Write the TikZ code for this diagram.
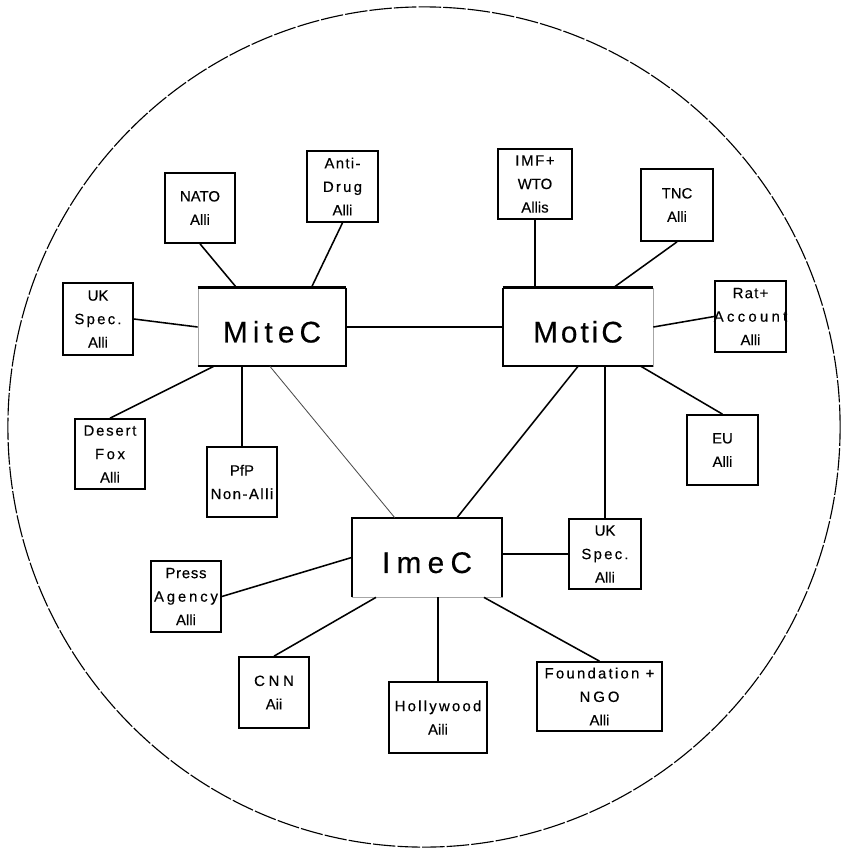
\documentclass[tikz,border=0pt]{standalone}
\usepackage{fontspec}
\setmainfont[FakeBold=0.35]{Liberation Sans}
\usetikzlibrary{calc}
\newcommand{\trk}[2]{{\addfontfeature{LetterSpace=#1}#2}}

\begin{document}
\begin{tikzpicture}[
    x=0.025cm, y=-0.025cm,
    font=\fontsize{10.6}{16.7}\selectfont,
    ally/.style={rectangle, draw, line width=1.2pt, minimum width=1.75cm, minimum height=1.75cm, inner sep=0pt, align=center},
    core/.style={rectangle, draw=black!35, line width=0.5pt, minimum width=3.75cm, minimum height=1.95cm, inner sep=0pt, font=\fontsize{21.2}{25}\selectfont, text height=22pt, text depth=0pt},
    link/.style={line width=1.1pt},
    edge/.style={line width=1.3pt},
    rim/.style={line width=0.8pt, dash pattern=on 16pt off 1.5pt}
]

\useasboundingbox (0,0) rectangle (842,848);

% Outer circle
\draw[rim] (424,427) ellipse [x radius=10.4cm, y radius=10.5cm];

% Core boxes
\node[core, minimum width=3.7cm] (mite) at (272,327) {\trk{17}{MiteC}};
\node[core] (moti) at (578,327) {\trk{10}{MotiC}};
\node[core, minimum height=1.975cm] (imec) at (427,557.5) {\trk{21}{ImeC}};

\draw[edge] (mite.south west) -- (mite.south east) -- (mite.north east);
\draw[line width=2.2pt] (mite.north west) -- (mite.north east);
\draw[edge] (moti.south east) -- (moti.south west) -- (moti.north west);
\draw[line width=2.2pt] (moti.north west) -- (moti.north east);
\draw[edge] (imec.south west) -- (imec.north west) -- (imec.north east) -- (imec.south east);

% MiteC allies
\node[ally] (nato) at (200,208) {NATO\\Alli};
\node[ally, minimum width=1.775cm, minimum height=1.775cm] (drug) at (342.5,186.5) {\trk{9}{Anti-}\\\trk{15}{Drug}\\Alli};
\node[ally, minimum height=1.8cm] (ukl) at (98,319) {UK\\\trk{15}{Spec.}\\Alli};
\node[ally] (fox) at (110,454) {\trk{12}{Desert}\\\trk{17}{Fox}\\Alli};
\node[ally] (pfp) at (242,482) {PfP\\\trk{10}{Non-Alli}};

% MotiC allies
\node[ally, minimum width=1.85cm] (imf) at (535,184) {\trk{11}{IMF+}\\WTO\\Allis};
\node[ally, minimum width=1.8cm, minimum height=1.8cm] (tnc) at (677,205) {TNC\\Alli};
\node[ally, minimum width=1.775cm, minimum height=1.775cm] (rat) at (750.5,316.5) {\trk{8}{Rat+}\\\makebox[0pt]{\trk{22}{Account}}\\Alli};
\node[ally, minimum width=1.775cm] (eu) at (722.5,450) {EU\\Alli};
\node[ally, minimum width=1.8cm] (ukr) at (605,554) {UK\\\trk{15}{Spec.}\\Alli};

% ImeC allies
\node[ally, minimum height=1.775cm] (press) at (186,596.5) {\trk{5}{Press}\\\trk{19}{Agency}\\Alli};
\node[ally, minimum height=1.775cm] (cnn) at (274,692.5) {\trk{25}{CNN}\\Aii};
\node[ally, minimum width=2.45cm, minimum height=1.775cm] (holly) at (438,717.5) {\trk{15}{Hollywood}\\Aili};
\node[ally, minimum width=3.125cm, minimum height=1.725cm] (found) at (599.5,696.5) {\trk{15}{Foundation +}\\\trk{20}{NGO}\\Alli};

% Links
\draw[line width=2pt] (mite.east) -- (moti.west);
\draw[link] (nato.south) -- (mite.132);
\draw[link] (drug.south) -- (mite.45);
\draw[link] (ukl.east) -- (mite.west);
\draw[link] (fox.north) -- (mite.214);
\draw[link] (pfp.north) -- (pfp.north |- mite.south);
\draw[line width=0.6pt, black!70] (mite.267) -- (imec.129);

\draw[link] (imf.south) -- (imf.south |- moti.north);
\draw[link] (tnc.south) -- (moti.48);
\draw[link] (rat.west) -- (moti.east);
\draw[link] (eu.north) -- (moti.328);
\draw[link] (ukr.north) -- (ukr.north |- moti.south);
\draw[link] (moti.south) -- (imec.53);

\draw[link] (ukr.west) -- (ukr.west -| imec.east);
\draw[link] (press.east) -- (imec.west);
\draw[link] (cnn.north) -- (imec.218);
\draw[link] (holly.north) -- (holly.north |- imec.south);
\draw[link] (found.north) -- (imec.325);

\end{tikzpicture}
\end{document}
